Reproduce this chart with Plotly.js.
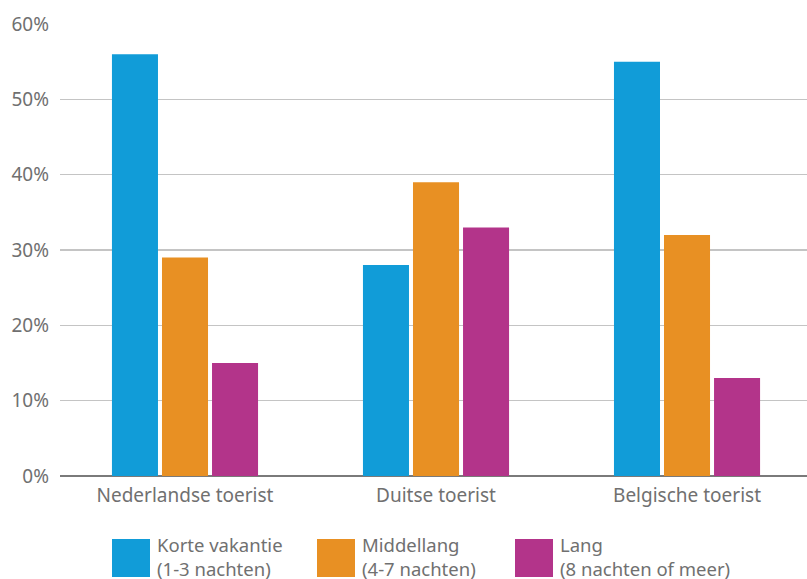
<!DOCTYPE html>
<html><head><meta charset="utf-8">
<script src="https://cdn.plot.ly/plotly-3.0.1.min.js"></script>
<style>html,body{margin:0;padding:0;background:#fff}#c{width:807px;height:579px}</style>
</head><body><div id="c"></div>
<script>
var categories = ["Nederlandse toerist", "Duitse toerist", "Belgische toerist"];
var seriesNames = ["Korte vakantie", "Middellang", "Lang"];
var seriesSub = ["(1-3 nachten)", "(4-7 nachten)", "(8 nachten of meer)"];
var korte = [56, 28, 55];
var middellang = [29, 39, 32];
var lang = [15, 33, 13];
var yTicks = [0, 10, 20, 30, 40, 50, 60];

var colors = ["#119cd8", "#e89023", "#b3348a"];
var values = [korte, middellang, lang];
var W = 807, H = 579, L = 60, R = 0, T = 24, B = 103;
var pw = W - L - R, ph = H - T - B;
function px(x){ return (x - L) / pw; }
function py(y){ return (H - B - y) / ph; }

var traces = values.map(function(v, i){
  return {type:'bar', x:categories, y:v, name:seriesNames[i], marker:{color:colors[i]}, hoverinfo:'skip'};
});

var font = {family:'"Noto Sans", Roboto, "DejaVu Sans", sans-serif', color:'#707070', size:19};
var legFont = {family:font.family, color:font.color, size:18.5};
var legX = [112, 317, 515];
var shapes = [], annotations = [];
legX.forEach(function(x, i){
  shapes.push({type:'rect', xref:'paper', yref:'paper', x0:px(x), x1:px(x+38), y0:py(577), y1:py(539), fillcolor:colors[i], line:{width:0}});
  annotations.push({xref:'paper', yref:'paper', x:px(x+43), y:py(530), xanchor:'left', yanchor:'top', showarrow:false, align:'left',
    text: seriesNames[i] + '<br>' + seriesSub[i], font:legFont});
});

var layout = {
  width:W, height:H, margin:{l:L, r:R, t:T, b:B},
  paper_bgcolor:'#fff', plot_bgcolor:'#fff',
  showlegend:false, barmode:'group', bargap:0.402, bargroupgap:0.08,
  font:font,
  xaxis:{range:[-0.498, 2.478], showgrid:false, zeroline:false, showline:false, ticks:'', tickfont:font, fixedrange:true, ticklabelstandoff:6},
  yaxis:{range:[0, 60], tickvals:yTicks, ticktext:yTicks.map(function(t){return t+'%';}), showgrid:true, gridcolor:'#c4c4c4', gridwidth:1.3,
    zeroline:true, zerolinecolor:'#7a7a7a', zerolinewidth:2.5, showline:false, ticks:'', tickfont:font, ticklabelstandoff:10, fixedrange:true},
  shapes:shapes, annotations:annotations
};
Plotly.newPlot('c', traces, layout, {displayModeBar:false, staticPlot:true});
</script></body></html>
